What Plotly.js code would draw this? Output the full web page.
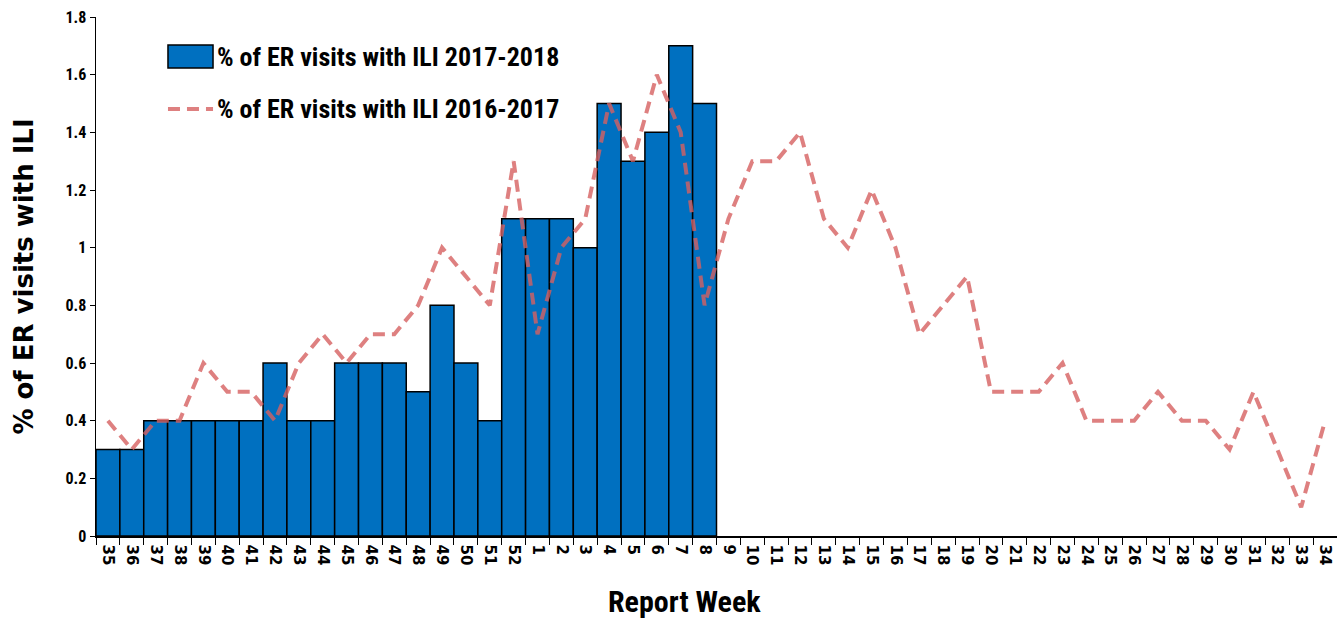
<!DOCTYPE html>
<html>
<head>
<meta charset="utf-8">
<script src="https://cdn.plot.ly/plotly-3.0.1.min.js"></script>
<style>html,body{margin:0;padding:0;background:#fff;}#chart{width:1337px;height:619px;}</style>
</head>
<body>
<div id="chart"></div>
<script>
const weeks = ["35","36","37","38","39","40","41","42","43","44","45","46","47","48","49","50","51","52",
  "1","2","3","4","5","6","7","8","9","10","11","12","13","14","15","16","17","18","19","20","21","22",
  "23","24","25","26","27","28","29","30","31","32","33","34"];
const weeks2018 = ["35","36","37","38","39","40","41","42","43","44","45","46","47","48","49","50","51","52",
  "1","2","3","4","5","6","7","8"];
const ili2018 = [0.3,0.3,0.4,0.4,0.4,0.4,0.4,0.6,0.4,0.4,0.6,0.6,0.6,0.5,0.8,0.6,0.4,1.1,
  1.1,1.1,1.0,1.5,1.3,1.4,1.7,1.5];
const ili2017 = [0.4,0.3,0.4,0.4,0.6,0.5,0.5,0.4,0.6,0.7,0.6,0.7,0.7,0.8,1.0,0.9,0.8,1.3,
  0.7,1.0,1.1,1.5,1.3,1.6,1.4,0.8,1.1,1.3,1.3,1.4,1.1,1.0,1.2,1.0,0.7,0.8,0.9,0.5,0.5,0.5,
  0.6,0.4,0.4,0.4,0.5,0.4,0.4,0.3,0.5,0.3,0.1,0.4];
const yTicks = [0,0.2,0.4,0.6,0.8,1,1.2,1.4,1.6,1.8];
const yTickText = ["0","0.2","0.4","0.6","0.8","1","1.2","1.4","1.6","1.8"];
const seriesNames = ["% of ER visits with ILI 2017-2018", "% of ER visits with ILI 2016-2017"];

const narrow = "'Liberation Sans Narrow', 'Arial Narrow', 'Roboto Condensed', 'Liberation Sans', Arial, sans-serif";
const wide = "'DejaVu Sans', Verdana, sans-serif";
const barColor = "#0070C0";
const lineColor = "rgba(214,96,96,0.8)";

const traces = [
  {
    type: "bar",
    x: weeks2018,
    y: ili2018,
    name: seriesNames[0],
    width: 1,
    marker: {color: barColor, line: {color: "#000", width: 1.5}},
    showlegend: false
  },
  {
    type: "scatter",
    mode: "lines",
    x: weeks,
    y: ili2017,
    name: seriesNames[1],
    line: {color: lineColor, width: 4, dash: "12px,7px"},
    showlegend: false
  }
];

// legend drawn in paper coordinates
const legFont = {family: narrow, size: 26, color: "#000", weight: "bold"};
const layout = {
  width: 1337,
  height: 619,
  margin: {l: 96, r: 0, t: 17, b: 83},
  paper_bgcolor: "#fff",
  plot_bgcolor: "#fff",
  showlegend: false,
  bargap: 0,
  shapes: [
    {type: "rect", xref: "paper", yref: "paper", x0: 0.058, x1: 0.0943, y0: 0.9017, y1: 0.946,
     fillcolor: barColor, line: {color: "#000", width: 1.5}},
    {type: "line", xref: "paper", yref: "paper", x0: 0.058, x1: 0.0943, y0: 0.8227, y1: 0.8227,
     line: {color: lineColor, width: 4, dash: "12px,7px"}}
  ],
  annotations: [
    {xref: "paper", yref: "paper", x: 0.0955, y: 0.922, xanchor: "left", yanchor: "middle",
     text: seriesNames[0], showarrow: false, font: legFont},
    {xref: "paper", yref: "paper", x: 0.0955, y: 0.822, xanchor: "left", yanchor: "middle",
     text: seriesNames[1], showarrow: false, font: legFont},
    {xref: "paper", yref: "paper", x: 0.4745, y: -0.127, xanchor: "center", yanchor: "middle",
     text: "Report Week", showarrow: false, font: {family: narrow, size: 30, color: "#000", weight: "bold"}}
  ],
  xaxis: {
    type: "category",
    categoryorder: "array",
    categoryarray: weeks,
    range: [-0.5, 51.5],
    showline: true, linecolor: "#000", linewidth: 1.5,
    ticks: "outside", tickson: "boundaries", ticklen: 7, tickcolor: "#000", tickwidth: 1,
    tickangle: 90,
    ticklabelstandoff: 4,
    tickfont: {family: wide, size: 15, color: "#000", weight: "bold"},
    showgrid: false, zeroline: false
  },
  yaxis: {
    range: [0, 1.8],
    tickvals: yTicks,
    ticktext: yTickText,
    showline: true, linecolor: "#000", linewidth: 1.5,
    ticks: "outside", ticklen: 5, tickcolor: "#000",
    tickfont: {family: narrow, size: 16, color: "#000", weight: "bold"},
    showgrid: false, zeroline: false,
    title: {text: "% of ER visits with ILI", font: {family: wide, size: 26, color: "#000", weight: "bold"}, standoff: 24}
  }
};

Plotly.newPlot("chart", traces, layout, {displayModeBar: false, staticPlot: true});
</script>
</body>
</html>
